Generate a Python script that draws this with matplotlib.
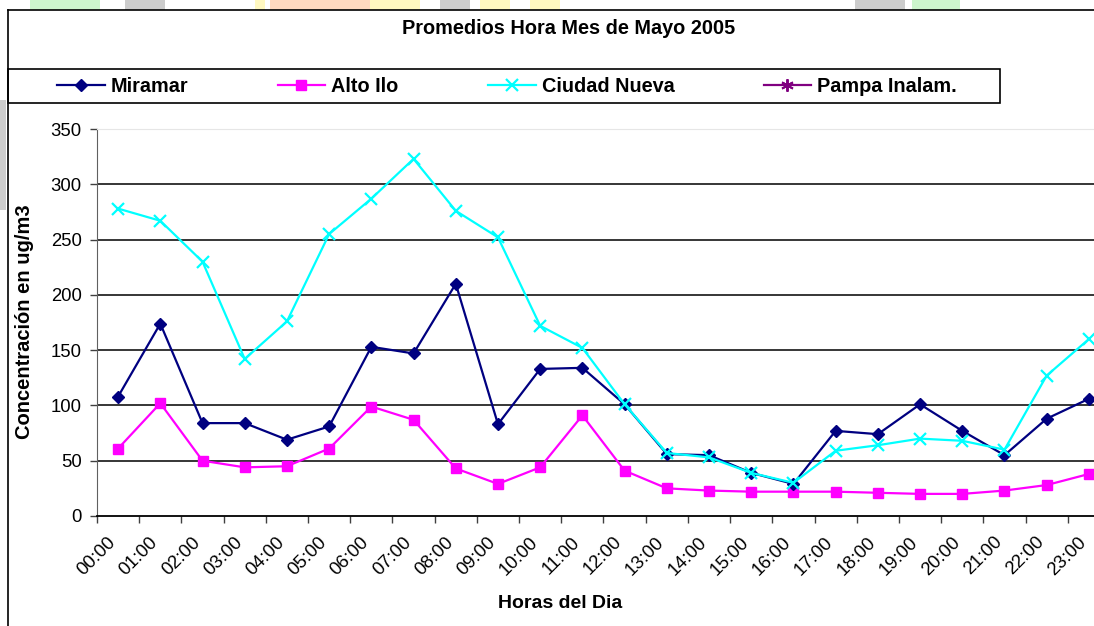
import matplotlib.pyplot as plt
import matplotlib.transforms as mtransforms
from matplotlib.patches import Rectangle
from matplotlib.lines import Line2D
import numpy as np

plt.rcParams['font.family'] = ['Liberation Sans', 'DejaVu Sans']

# Data: hourly averages, May 2005 (ug/m3)
horas = ['00:00', '01:00', '02:00', '03:00', '04:00', '05:00', '06:00', '07:00',
         '08:00', '09:00', '10:00', '11:00', '12:00', '13:00', '14:00', '15:00',
         '16:00', '17:00', '18:00', '19:00', '20:00', '21:00', '22:00', '23:00']

miramar = [108, 174, 84, 84, 69, 81, 153, 147, 210, 83, 133, 134,
           101, 56, 55, 39, 29, 77, 74, 101, 77, 55, 88, 106]
alto_ilo = [61, 102, 50, 44, 45, 61, 99, 87, 43, 29, 44, 91,
            41, 25, 23, 22, 22, 22, 21, 20, 20, 23, 28, 38]
ciudad_nueva = [278, 267, 230, 142, 176, 255, 287, 323, 276, 252, 172, 152,
                101, 57, 53, 39, 30, 59, 64, 70, 68, 60, 127, 160]
pampa = [np.nan] * 24  # no data for Pampa Inalam.

yticks = [0, 50, 100, 150, 200, 250, 300, 350]

W, H = 1094, 626
fig = plt.figure(figsize=(W / 100, H / 100), dpi=100)

def px(x, y):
    # pixel (from top-left) -> figure fraction
    return x / W, 1 - y / H

# faint watermark bits peeking out around the chart frame
for x0, x1, col in [(30, 100, '#ccf5cc'), (125, 165, '#cccccc'), (255, 265, '#fff8c0'),
                    (270, 370, '#ffd9c0'), (370, 420, '#fff8c0'), (440, 470, '#cccccc'),
                    (480, 510, '#fff8c0'), (530, 560, '#fff8c0'), (855, 905, '#cccccc'),
                    (912, 960, '#ccf5cc')]:
    fig.patches.append(Rectangle((x0 / W, 1 - 10 / H), (x1 - x0) / W, 10 / H,
                                 transform=fig.transFigure, color=col, lw=0, zorder=0))
fig.patches.append(Rectangle((0, 1 - 210 / H), 6 / W, 110 / H,
                             transform=fig.transFigure, color='#cccccc', lw=0, zorder=0))

# chart area frame (left and top edges visible)
fig.add_artist(Line2D([8 / W, 8 / W], [0, 1 - 10 / H], transform=fig.transFigure, color='black', lw=1.2))
fig.add_artist(Line2D([8 / W, 1], [1 - 10 / H, 1 - 10 / H], transform=fig.transFigure, color='black', lw=1.2))

# legend box
fig.patches.append(Rectangle(px(8, 103), 992 / W, 34 / H, transform=fig.transFigure,
                             facecolor='white', edgecolor='black', lw=1.2, zorder=1))

fig.text(569 / W, 1 - 28 / H, 'Promedios Hora Mes de Mayo 2005', ha='center', va='center',
         fontsize=14.3, fontweight='bold')

ax = fig.add_axes([97 / W, 1 - 516 / H, (1110 - 97) / W, (516 - 129) / H])
x = np.arange(len(horas))

ax.plot(x, miramar, color='#000080', lw=1.6, marker='D', ms=6.5, label='Miramar', zorder=4)
ax.plot(x, alto_ilo, color='#ff00ff', lw=1.6, marker='s', ms=7.5, label='Alto Ilo', zorder=3)
ax.plot(x, ciudad_nueva, color='#00ffff', lw=1.6, marker='x', ms=9, mew=1.6, label='Ciudad Nueva', zorder=5)
ax.plot(x, pampa, color='#800080', lw=1.6, marker=(6, 2, 0), ms=9, mew=1.4, label='Pampa Inalam.')

ax.set_xlim(-0.5, len(horas) - 0.5)
ax.set_ylim(0, 350)

for v in yticks[1:-1]:
    ax.axhline(v, color='black', lw=1.1, zorder=1)

ax.set_yticks(yticks)
ax.set_xticks(np.arange(len(horas) + 1) - 0.5)
ax.set_xticklabels([])
ax.set_xticks(x, minor=True)
ax.set_xticklabels(horas, minor=True, rotation=45, ha='right', va='center',
                   rotation_mode='anchor', fontsize=13.3)
ax.tick_params(axis='x', which='minor', length=0, pad=17)
ax.tick_params(axis='both', which='major', direction='out', length=5, width=1, color='#404040',
               labelsize=13.3)
ax.tick_params(axis='y', which='major', pad=6)
offset = mtransforms.ScaledTranslation(-5 / 100, 0, fig.dpi_scale_trans)
for lbl in ax.xaxis.get_minorticklabels():
    lbl.set_transform(lbl.get_transform() + offset)

ax.spines['right'].set_visible(False)
ax.spines['top'].set_color('#e6e6e6')
ax.spines['left'].set_color('#606060')
ax.spines['bottom'].set_color('black')
ax.spines['bottom'].set_linewidth(1.3)

fig.text(25 / W, 1 - 322 / H, 'Concentración en ug/m3', rotation=90, ha='center', va='center',
         fontsize=14.5, fontweight='bold')
fig.text(560 / W, 1 - 604 / H, 'Horas del Dia', ha='center', va='center',
         fontsize=14, fontweight='bold')

handles, labels = ax.get_legend_handles_labels()
fig.legend(handles, labels, loc='center left', bbox_to_anchor=px(57, 86), ncol=4,
           frameon=False, handlelength=2.4, handletextpad=0.3, columnspacing=4.5,
           borderpad=0, borderaxespad=0, prop={'weight': 'bold', 'size': 14.3})

fig.savefig('out.png', dpi=100)
